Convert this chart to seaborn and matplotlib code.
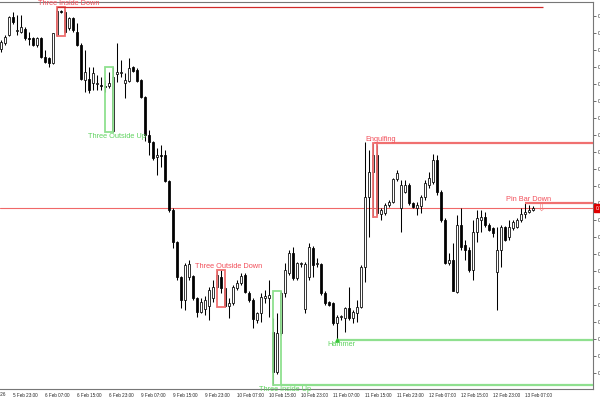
import matplotlib
matplotlib.use('Agg')
import matplotlib.pyplot as plt
import seaborn as sns
from matplotlib.patches import Rectangle

# hourly OHLC bars
opens = [0.7651, 0.7657, 0.7665, 0.7683, 0.7669, 0.7668, 0.7671, 0.7662, 0.7662, 0.7655,
         0.7662, 0.7643, 0.7642, 0.7637, 0.7665, 0.7689, 0.7688, 0.7672, 0.7682, 0.7668,
         0.7655, 0.7620, 0.7621, 0.7617, 0.7616, 0.7615, 0.7614, 0.7614, 0.7569, 0.7626,
         0.7627, 0.7617, 0.7619, 0.7633, 0.7630, 0.7620, 0.7603, 0.7565, 0.7558, 0.7543,
         0.7545, 0.7545, 0.7519, 0.7490, 0.7458, 0.7423, 0.7400, 0.7423, 0.7424, 0.7402,
         0.7388, 0.7391, 0.7394, 0.7402, 0.7413, 0.7423, 0.7412, 0.7394, 0.7397, 0.7412,
         0.7417, 0.7425, 0.7407, 0.7400, 0.7380, 0.7387, 0.7402, 0.7402, 0.7368, 0.7328,
         0.7367, 0.7407, 0.7427, 0.7447, 0.7422, 0.7436, 0.7391, 0.7423, 0.7452, 0.7436,
         0.7436, 0.7407, 0.7398, 0.7397, 0.7377, 0.7383, 0.7382, 0.7392, 0.7382, 0.7387,
         0.7393, 0.7433, 0.7503, 0.7528, 0.7545, 0.7486, 0.7487, 0.7495, 0.7498, 0.7521,
         0.7492, 0.7508, 0.7515, 0.7497, 0.7492, 0.7494, 0.7503, 0.7515, 0.7518, 0.7540,
         0.7508, 0.7480, 0.7437, 0.7440, 0.7408, 0.7475, 0.7455, 0.7450, 0.7430, 0.7468,
         0.7480, 0.7483, 0.7475, 0.7472, 0.7428, 0.7450, 0.7473, 0.7463, 0.7472, 0.7473,
         0.7480, 0.7486, 0.7488, 0.7490]
highs = [0.7660, 0.7665, 0.7684, 0.7688, 0.7685, 0.7685, 0.7673, 0.7668, 0.7663, 0.7663,
         0.7663, 0.7650, 0.7643, 0.7667, 0.7693, 0.7690, 0.7690, 0.7683, 0.7683, 0.7677,
         0.7657, 0.7650, 0.7633, 0.7633, 0.7625, 0.7623, 0.7620, 0.7628, 0.7633, 0.7657,
         0.7640, 0.7627, 0.7642, 0.7634, 0.7632, 0.7621, 0.7604, 0.7570, 0.7559, 0.7552,
         0.7555, 0.7550, 0.7520, 0.7492, 0.7459, 0.7424, 0.7437, 0.7440, 0.7425, 0.7403,
         0.7402, 0.7404, 0.7413, 0.7420, 0.7430, 0.7430, 0.7413, 0.7402, 0.7415, 0.7420,
         0.7427, 0.7427, 0.7409, 0.7402, 0.7388, 0.7407, 0.7410, 0.7420, 0.7382, 0.7387,
         0.7409, 0.7437, 0.7450, 0.7453, 0.7438, 0.7438, 0.7438, 0.7457, 0.7454, 0.7442,
         0.7437, 0.7409, 0.7399, 0.7398, 0.7385, 0.7385, 0.7393, 0.7413, 0.7390, 0.7400,
         0.7435, 0.7558, 0.7550, 0.7557, 0.7555, 0.7492, 0.7497, 0.7500, 0.7522, 0.7530,
         0.7520, 0.7520, 0.7517, 0.7498, 0.7498, 0.7505, 0.7520, 0.7528, 0.7546, 0.7545,
         0.7510, 0.7482, 0.7447, 0.7457, 0.7485, 0.7492, 0.7460, 0.7453, 0.7480, 0.7490,
         0.7490, 0.7488, 0.7477, 0.7473, 0.7473, 0.7475, 0.7474, 0.7480, 0.7480, 0.7482,
         0.7492, 0.7497, 0.7495, 0.7494]
lows = [0.7648, 0.7655, 0.7664, 0.7676, 0.7665, 0.7667, 0.7660, 0.7655, 0.7654, 0.7653,
        0.7642, 0.7637, 0.7633, 0.7636, 0.7664, 0.7687, 0.7667, 0.7670, 0.7668, 0.7654,
        0.7620, 0.7608, 0.7607, 0.7610, 0.7610, 0.7610, 0.7608, 0.7612, 0.7568, 0.7618,
        0.7623, 0.7602, 0.7618, 0.7628, 0.7618, 0.7602, 0.7559, 0.7545, 0.7540, 0.7525,
        0.7533, 0.7518, 0.7488, 0.7452, 0.7420, 0.7392, 0.7390, 0.7420, 0.7400, 0.7383,
        0.7387, 0.7385, 0.7380, 0.7398, 0.7412, 0.7407, 0.7393, 0.7382, 0.7395, 0.7410,
        0.7415, 0.7407, 0.7398, 0.7372, 0.7377, 0.7378, 0.7397, 0.7383, 0.7315, 0.7326,
        0.7365, 0.7403, 0.7425, 0.7420, 0.7420, 0.7433, 0.7387, 0.7420, 0.7423, 0.7433,
        0.7405, 0.7395, 0.7394, 0.7375, 0.7360, 0.7380, 0.7368, 0.7380, 0.7377, 0.7378,
        0.7392, 0.7418, 0.7463, 0.7483, 0.7485, 0.7480, 0.7485, 0.7493, 0.7497, 0.7519,
        0.7468, 0.7507, 0.7495, 0.7492, 0.7485, 0.7487, 0.7500, 0.7512, 0.7516, 0.7505,
        0.7478, 0.7436, 0.7435, 0.7409, 0.7407, 0.7450, 0.7440, 0.7428, 0.7420, 0.7458,
        0.7468, 0.7473, 0.7469, 0.7463, 0.7390, 0.7433, 0.7459, 0.7460, 0.7470, 0.7472,
        0.7478, 0.7482, 0.7487, 0.7489]
closes = [0.7658, 0.7663, 0.7683, 0.7678, 0.7670, 0.7673, 0.7662, 0.7661, 0.7655, 0.7662,
          0.7643, 0.7638, 0.7637, 0.7667, 0.7689, 0.7688, 0.7668, 0.7682, 0.7670, 0.7655,
          0.7621, 0.7628, 0.7610, 0.7627, 0.7617, 0.7614, 0.7613, 0.7617, 0.7623, 0.7628,
          0.7628, 0.7620, 0.7632, 0.7629, 0.7619, 0.7603, 0.7565, 0.7558, 0.7542, 0.7545,
          0.7544, 0.7519, 0.7490, 0.7458, 0.7423, 0.7400, 0.7435, 0.7436, 0.7402, 0.7388,
          0.7398, 0.7400, 0.7410, 0.7413, 0.7425, 0.7412, 0.7394, 0.7397, 0.7413, 0.7417,
          0.7424, 0.7408, 0.7400, 0.7381, 0.7387, 0.7403, 0.7404, 0.7405, 0.7328, 0.7367,
          0.7407, 0.7430, 0.7447, 0.7422, 0.7437, 0.7437, 0.7436, 0.7453, 0.7435, 0.7436,
          0.7407, 0.7397, 0.7395, 0.7377, 0.7383, 0.7383, 0.7392, 0.7382, 0.7388, 0.7393,
          0.7433, 0.7503, 0.7528, 0.7545, 0.7487, 0.7490, 0.7495, 0.7498, 0.7521, 0.7527,
          0.7515, 0.7515, 0.7497, 0.7493, 0.7495, 0.7503, 0.7517, 0.7522, 0.7540, 0.7508,
          0.7480, 0.7437, 0.7440, 0.7409, 0.7475, 0.7453, 0.7450, 0.7430, 0.7468, 0.7482,
          0.7483, 0.7475, 0.7470, 0.7467, 0.7450, 0.7473, 0.7460, 0.7473, 0.7478, 0.7480,
          0.7486, 0.7488, 0.7490, 0.7492]

time_ticks = [3, 11, 19, 27, 35, 43, 51, 59, 67, 75, 83, 91, 99, 107, 115, 123, 131]
time_labels = ["5 Feb 23:00", "6 Feb 07:00", "6 Feb 15:00", "6 Feb 23:00", "9 Feb 07:00",
               "9 Feb 15:00", "9 Feb 23:00", "10 Feb 07:00", "10 Feb 15:00", "10 Feb 23:00",
               "11 Feb 07:00", "11 Feb 15:00", "11 Feb 23:00", "12 Feb 07:00", "12 Feb 15:00",
               "12 Feb 23:00", "13 Feb 07:00"]
price_ticks = [0.7684, 0.7667, 0.7650, 0.7633, 0.7616, 0.7599, 0.7582, 0.7565, 0.7548, 0.7531,
               0.7514, 0.7497, 0.7480, 0.7463, 0.7446, 0.7429, 0.7412, 0.7395, 0.7378, 0.7361,
               0.7344, 0.7327]

# detected patterns: name, first bar, last bar, bullish?
pattern_names = ["Three Inside Down", "Three Outside Up", "Three Outside Down",
                 "Three Inside Up", "Engulfing", "Hammer", "Pin Bar Down"]
pattern_start = [14, 26, 54, 68, 93, 84, 131]
pattern_end = [16, 28, 56, 70, 94, 84, 131]
pattern_bull = [False, True, False, True, False, True, False]

RED_TXT = '#f24f5a'
RED_BOX = '#f07070'
GREEN_TXT = '#5fd35f'
GREEN_BOX = '#8fe08f'

sns.set_style('white')
plt.rcParams['font.family'] = ['Liberation Sans', 'DejaVu Sans']

fig = plt.figure(figsize=(6, 4), dpi=100)
ax = fig.add_axes([0, 11 / 400, 593 / 600, 387 / 400])

n = len(opens)
idx = list(range(n))

# current price line
ax.axhline(closes[-1], color='#f06868', lw=0.8, zorder=1)

# candles: wicks then bodies
ax.vlines(idx, lows, highs, color='black', lw=0.75, zorder=2)
bottoms = [min(o, c) for o, c in zip(opens, closes)]
heights = [max(abs(c - o), 0.00006) for o, c in zip(opens, closes)]
faces = ['white' if c >= o else 'black' for o, c in zip(opens, closes)]
ax.bar(idx, heights, bottom=bottoms, width=0.55, color=faces, edgecolor='black',
       linewidth=0.55, zorder=3)

x_end = 148
for name, s, e, bull in zip(pattern_names, pattern_start, pattern_end, pattern_bull):
    hi = max(highs[s:e + 1])
    lo = min(lows[s:e + 1])
    box_col = GREEN_BOX if bull else RED_BOX
    txt_col = GREEN_TXT if bull else RED_TXT
    if e > s:
        ax.add_patch(Rectangle((s, lo), e - s, hi - lo, fill=False, edgecolor=box_col,
                               lw=1.3, zorder=4))
    if bull:
        ax.annotate(name, (e + 1, lo), xytext=(0, -0.5), textcoords='offset points',
                    ha='center', va='top', fontsize=5.3, color=txt_col, zorder=6,
                    annotation_clip=False)
    else:
        ax.annotate(name, (e + 1, hi), xytext=(0, 0.3), textcoords='offset points',
                    ha='center', va='bottom', fontsize=5.3, color=txt_col, zorder=6,
                    annotation_clip=False)
    if name == "Three Inside Down":
        ax.hlines(hi, s, 135.5, color='#d02a2a', lw=0.9, zorder=4)
    elif name in ("Three Inside Up", "Engulfing", "Pin Bar Down"):
        ax.hlines(lo if bull else hi, e, x_end, color=box_col, lw=1.6, zorder=4)
    elif name == "Hammer":
        ax.hlines(lo, e, x_end, color=box_col, lw=1.6, zorder=4)
        ax.plot([e], [lo], marker='^', ms=2.5, color='#3cc83c', zorder=5)
    if name == "Pin Bar Down":
        ax.text(e + 4, hi, '\u21e9', ha='center', va='top', fontsize=8,
                color=RED_BOX, family='DejaVu Sans', zorder=5)

ax.set_xlim(-0.25, x_end)
ax.set_ylim(0.7311, 0.7698)

ax.set_xticks(time_ticks)
ax.set_xticklabels(time_labels, ha='left', fontsize=3.3)
ax.yaxis.tick_right()
ax.set_yticks(price_ticks)
ax.set_yticklabels([f"{p:.5f}" for p in price_ticks], fontsize=3.5)
ax.tick_params(axis='x', direction='out', length=1.5, width=0.6, pad=1.4, color='#555555')
ax.tick_params(axis='y', direction='out', length=2.2, width=0.6, pad=1, color='#555555')

for side in ['left']:
    ax.spines[side].set_visible(False)
for side in ['right', 'bottom', 'top']:
    ax.spines[side].set_color('#777777')
    ax.spines[side].set_linewidth(0.8)

# current price marker on the scale
ax.text(1.004, closes[-1], f"{closes[-1]:.5f}", transform=ax.get_yaxis_transform(),
        ha='left', va='center', fontsize=3.5, color='white',
        bbox=dict(boxstyle='square,pad=0.25', fc='#e00000', ec='#e00000'))

# first date label, cut at the left edge
fig.text(5.5 / 600, 1 - 394 / 400, "5 Feb 2026", ha='right', va='center', fontsize=3.3)

fig.savefig('out.png', dpi=100)
